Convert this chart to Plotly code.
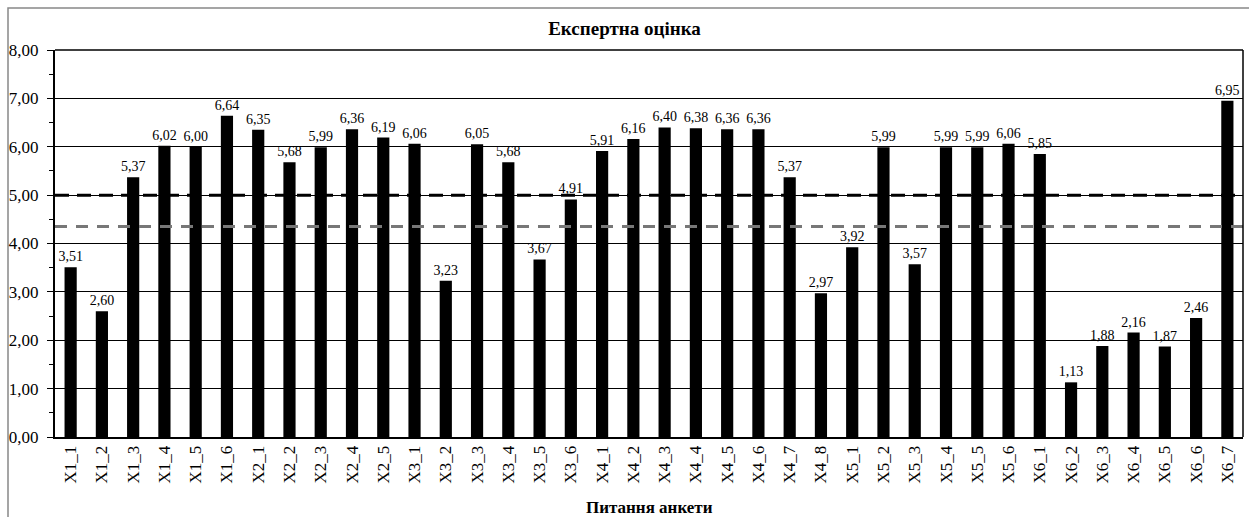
import plotly.graph_objects as go

categories = ["X1_1", "X1_2", "X1_3", "X1_4", "X1_5", "X1_6",
              "X2_1", "X2_2", "X2_3", "X2_4", "X2_5",
              "X3_1", "X3_2", "X3_3", "X3_4", "X3_5", "X3_6",
              "X4_1", "X4_2", "X4_3", "X4_4", "X4_5", "X4_6", "X4_7", "X4_8",
              "X5_1", "X5_2", "X5_3", "X5_4", "X5_5", "X5_6",
              "X6_1", "X6_2", "X6_3", "X6_4", "X6_5", "X6_6", "X6_7"]
values = [3.51, 2.60, 5.37, 6.02, 6.00, 6.64,
          6.35, 5.68, 5.99, 6.36, 6.19,
          6.06, 3.23, 6.05, 5.68, 3.67, 4.91,
          5.91, 6.16, 6.40, 6.38, 6.36, 6.36, 5.37, 2.97,
          3.92, 5.99, 3.57, 5.99, 5.99, 6.06,
          5.85, 1.13, 1.88, 2.16, 1.87, 2.46, 6.95]
mean_level = 5.00
lower_level = 4.35
y_ticks = [0, 1, 2, 3, 4, 5, 6, 7, 8]

FONT = "Liberation Serif, Times New Roman, serif"

fig = go.Figure()
fig.add_trace(go.Bar(
    x=categories, y=values,
    marker=dict(color="black", line=dict(width=0)),
    width=0.39,
    texttemplate="%{y:.2f}", textposition="outside",
    textfont=dict(family=FONT, size=14, color="#000000"),
    outsidetextfont=dict(family=FONT, size=14, color="#000000"),
    constraintext="none",
    cliponaxis=False,
    showlegend=False,
))

fig.add_shape(type="line", xref="paper", yref="y", x0=0, x1=1,
              y0=mean_level, y1=mean_level, layer="above",
              line=dict(color="black", width=3, dash="14px,8px"))
fig.add_shape(type="line", xref="paper", yref="y", x0=0, x1=1,
              y0=lower_level, y1=lower_level, layer="above",
              line=dict(color="#777777", width=3, dash="12px,9px"))

# outer chart border
W, H = 1249, 517
L, R, T, B = 55, 6, 50, 80
pw, ph = W - L - R, H - T - B
fig.add_shape(type="rect", xref="paper", yref="paper",
              x0=(8 - L) / pw, x1=(W + 5 - L) / pw,
              y0=-(B + 5) / ph, y1=1 + (T - 8) / ph,
              line=dict(color="#888888", width=1.5), layer="below")

fig.add_annotation(text="<b>Питання анкети</b>", xref="paper", yref="paper",
                   x=0.5, y=-(507 - (T + ph)) / ph, xanchor="center", yanchor="middle",
                   showarrow=False, font=dict(family=FONT, size=17, color="black"))

fig.update_layout(
    width=W, height=H,
    margin=dict(l=L, r=R, t=T, b=B),
    paper_bgcolor="white", plot_bgcolor="white",
    separators=", ",
    bargap=0.5,
    title=dict(text="<b>Експертна оцінка</b>", x=0.5, xanchor="center",
               y=1 - 28 / H, yanchor="middle",
               font=dict(family=FONT, size=19, color="black")),
    font=dict(family=FONT, color="black"),
    xaxis=dict(
        type="category", tickangle=-90,
        tickfont=dict(family=FONT, size=17, color="black"),
        showline=True, linecolor="black", linewidth=2, mirror=False,
        ticks="", showgrid=False,
    ),
    yaxis=dict(
        range=[0, 8], tickvals=y_ticks, tickformat=".2f",
        tickfont=dict(family=FONT, size=17, color="black"),
        ticklabelstandoff=5,
        showline=True, linecolor="black", linewidth=2,
        ticks="outside", ticklen=6, tickcolor="black", tickwidth=1,
        showgrid=True, gridcolor="black", gridwidth=1,
        zeroline=False,
        minor=dict(dtick=0.5, ticks="outside", ticklen=4, tickcolor="black", showgrid=False),
    ),
)
# top and right frame of plot area
fig.add_shape(type="line", xref="paper", yref="paper", x0=0, x1=1, y0=1, y1=1,
              line=dict(color="black", width=1.5))
fig.add_shape(type="line", xref="paper", yref="paper", x0=1, x1=1, y0=0, y1=1,
              line=dict(color="black", width=1.5))

fig.write_html("out.html", config={"displayModeBar": False},
               post_script="document.body.style.margin='0px';document.body.style.overflow='hidden';")
